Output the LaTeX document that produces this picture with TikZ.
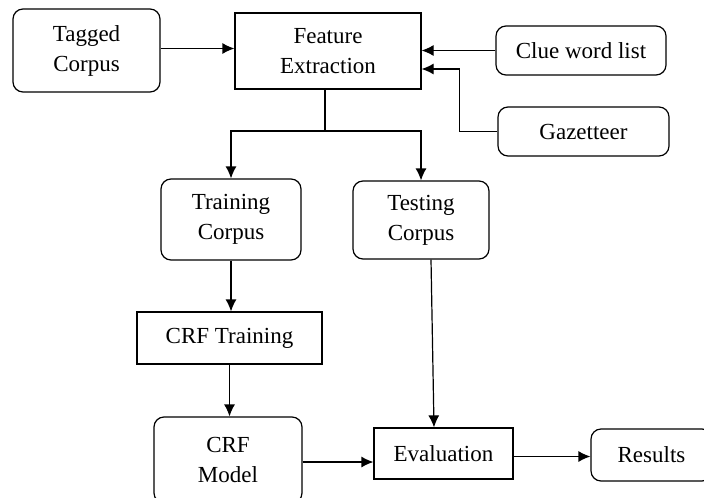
\documentclass[tikz,border=0pt]{standalone}
\usepackage{fontspec}
\setmainfont{Liberation Serif}
\usetikzlibrary{arrows.meta,calc}
\tikzset{
  box/.style={draw,line width=0.6pt,align=center,inner sep=0pt,
    font=\fontsize{11.5}{15}\selectfont},
  rbox/.style={box,rounded corners=5pt},
}
\begin{document}
\begin{tikzpicture}[x=0.5pt,y=-0.5pt,> = {Latex[length=6pt,width=5.5pt]},line width=0.6pt]
  \clip (0,0) rectangle (704,497);
  % blocks
  \node[rbox,minimum width=73.5pt,minimum height=41.5pt] (tag) at (86.5,50.5) {Tagged\\Corpus};
  \node[box,minimum width=93pt,minimum height=38pt] (feat) at (328,51) {Feature\\Extraction};
  \node[rbox,minimum width=85pt,minimum height=24.5pt] (clue) at (581,50.5) {Clue word list};
  \node[rbox,minimum width=85.5pt,minimum height=24.5pt] (gaz) at (583.5,131.5) {Gazetteer};
  \node[rbox,minimum width=70pt,minimum height=40.5pt] (train) at (231,219.5) {Training\\Corpus};
  \node[rbox,minimum width=68pt,minimum height=39pt] (test) at (421,220) {Testing\\Corpus};
  \node[box,minimum width=92.5pt,minimum height=26pt] (crft) at (229.5,338) {CRF Training};
  \node[rbox,minimum width=74pt,minimum height=43pt] (model) at (228,460) {CRF\\Model};
  \node[box,minimum width=69.5pt,minimum height=25.5pt] (eval) at (443.5,453.5) {Evaluation};
  \node[rbox,minimum width=60.5pt,minimum height=26pt] (res) at (651.5,455) {Results};
  %%%%%%%%
  \draw[->] ([yshift=1pt]tag.east) -- ([yshift=1pt]tag.east -| feat.west);
  \draw[->] (clue.west) -- (clue.west -| feat.east);
  \draw[->] (gaz.west) -- ++(-38,0) |- ([yshift=-9pt]feat.east);
  \coordinate (fork) at ($(feat.south |- 0,131)+(-3,0)$);
  \draw ([xshift=-1.5pt]feat.south) -- (fork);
  \draw[->] (fork) -| (train.north);
  \draw[->] (fork) -| (test.north);
  %%%%%%%%
  \draw[->] (train.south) -- (train.south |- crft.north);
  \draw[->] (crft.south) -- (crft.south |- model.north);
  \draw[->] ([xshift=5pt]test.south) -- ([xshift=-4.75pt]eval.north);
  \draw[->] ([yshift=-1pt]model.east) -- ([yshift=-1pt]model.east -| eval.west);
  \draw[->] ([yshift=-1.5pt]eval.east) -- ([yshift=-1.5pt]eval.east -| res.west);
\end{tikzpicture}
\end{document}
